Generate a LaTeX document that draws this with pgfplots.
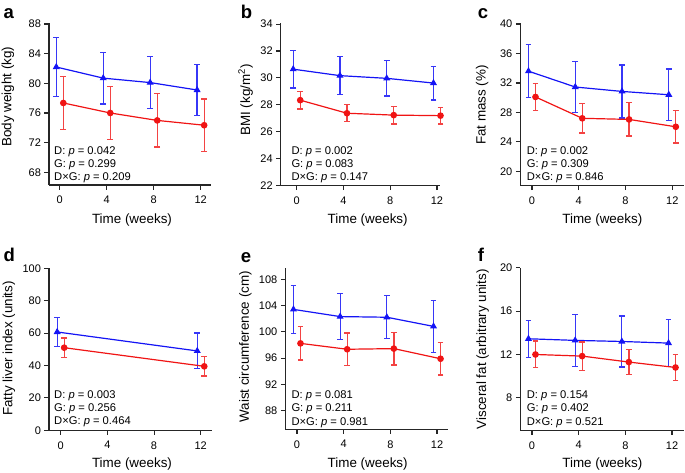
\documentclass[border=0pt]{standalone}
\usepackage{pgfplots}
\pgfplotsset{compat=1.18}
\usepackage{fontspec}
\setmainfont{Liberation Sans}

\definecolor{cblue}{RGB}{20,20,245}
\definecolor{cred}{RGB}{240,20,20}

\pgfplotsset{
  panel/.style={
    scale only axis, anchor=south west, clip=false,
    axis x line*=bottom, axis y line*=left,
    tick align=outside, major tick length=4.5pt,
    xtick={0,4,8,12},
    axis line style={line width=1.2pt, black!85},
    tick style={line width=1.1pt, black!85},
    tick label style={font=\fontsize{11}{12}\selectfont},
    xticklabel style={yshift=-3pt},
    /pgf/number format/assume math mode=true,
  },
  gb/.style={cblue, line width=1.2pt, mark=triangle*, mark size=2.9pt,
    error bars/.cd, y dir=both, y explicit,
    error bar style={line width=1.3pt, cblue!85},
    error mark options={rotate=90, mark size=2.9pt, line width=1.3pt, cblue!85}},
  gr/.style={cred, line width=1.2pt, mark=*, mark size=2.7pt,
    error bars/.cd, y dir=both, y explicit,
    error bar style={line width=1.3pt, cred!80},
    error mark options={rotate=90, mark size=2.9pt, line width=1.3pt, cred!80}},
}

\newcommand\lab{\fontsize{13.4}{15}\selectfont}
\newcommand\pv{\fontsize{11.2}{13}\selectfont}
\newcommand\plet{\fontsize{18.5}{20}\bfseries\selectfont}

\begin{document}
\begin{tikzpicture}[x=1pt,y=1pt]

% a
\begin{axis}[panel, at={(49pt,-185pt)}, width=162.2pt, height=162.5pt,
  xmin=-0.92, xmax=12.9, ymin=66.29, ymax=88.2, ytick={68,72,...,88}]
\addplot[gb] coordinates {(-0.3,82.2) +- (0,3.95) (3.7,80.7) +- (0,3.5) (7.7,80.1) +- (0,3.5) (11.7,79.1) +- (0,3.45)};
\addplot[gr] coordinates {(0.3,77.35) +- (0,3.6) (4.3,76.0) +- (0,3.6) (8.3,75.0) +- (0,3.6) (12.3,74.35) +- (0,3.55)};
\end{axis}

% b
\begin{axis}[panel, at={(280.7pt,-185.7pt)}, width=159.2pt, height=163pt,
  xmin=-1.37, xmax=12.25, ymin=22, ymax=34.1, ytick={22,24,...,34}]
\addplot[gb] coordinates {(-0.3,30.65) +- (0,1.4) (3.7,30.17) +- (0,1.4) (7.7,29.97) +- (0,1.3) (11.7,29.62) +- (0,1.25)};
\addplot[gr] coordinates {(0.3,28.35) +- (0,0.65) (4.3,27.38) +- (0,0.63) (8.3,27.24) +- (0,0.65) (12.3,27.2) +- (0,0.63)};
\end{axis}

% c
\begin{axis}[panel, at={(520.3pt,-185.7pt)}, width=163.7pt, height=162.4pt,
  xmin=-1.0, xmax=13.0, ymin=18.05, ymax=40.1, ytick={20,24,...,40}]
\addplot[gb] coordinates {(-0.3,33.6) +- (0,3.6) (3.7,31.45) +- (0,3.5) (7.7,30.85) +- (0,3.6) (11.7,30.4) +- (0,3.5)};
\addplot[gr] coordinates {(0.3,30.1) +- (0,1.8) (4.3,27.2) +- (0,2.0) (8.3,27.05) +- (0,2.25) (12.3,26.05) +- (0,2.2)};
\end{axis}

% d
\begin{axis}[panel, at={(49pt,-430.3pt)}, width=163.3pt, height=162.8pt,
  xmin=-1.0, xmax=12.99, ymin=0, ymax=100.5, ytick={0,20,...,100}]
\addplot[gb] coordinates {(-0.3,60.7) +- (0,9.0) (11.7,49.0) +- (0,11.0)};
\addplot[gr] coordinates {(0.3,51.0) +- (0,6.0) (12.3,39.5) +- (0,5.9)};
\end{axis}

% e
\begin{axis}[panel, at={(285.3pt,-429.3pt)}, width=162.7pt, height=161.4pt,
  xmin=-1.0, xmax=12.94, ymin=85.1, ymax=109.8, ytick={88,92,...,108}]
\addplot[gb] coordinates {(-0.3,103.45) +- (0,3.65) (3.7,102.35) +- (0,3.55) (7.7,102.25) +- (0,3.3) (11.7,100.85) +- (0,4.0)};
\addplot[gr] coordinates {(0.3,98.25) +- (0,2.55) (4.3,97.35) +- (0,2.5) (8.3,97.45) +- (0,2.5) (12.3,95.9) +- (0,2.5)};
\end{axis}

% f
\begin{axis}[panel, at={(520.3pt,-430.3pt)}, width=163.4pt, height=162.5pt,
  xmin=-1.0, xmax=13.0, ymin=5, ymax=20, ytick={8,12,...,20}]
\addplot[gb] coordinates {(-0.3,13.45) +- (0,1.7) (3.7,13.3) +- (0,2.4) (7.7,13.2) +- (0,2.35) (11.7,13.05) +- (0,2.15)};
\addplot[gr] coordinates {(0.3,12.0) +- (0,1.23) (4.3,11.85) +- (0,1.3) (8.3,11.3) +- (0,1.15) (12.3,10.8) +- (0,1.2)};
\end{axis}

% panel letters
\foreach \t/\x/\y in {a/3.3/18.3, b/240.7/18.3, c/477.7/18.3, d/3.3/261, e/240.7/262, f/477.7/261}
  \node[anchor=base west, inner sep=0, font=\plet] at (\x,-\y) {\t};

% axis titles
\node[rotate=90, font=\lab] at (8,-96.7) {Body weight (kg)};
\node[rotate=90, font=\lab] at (245.5,-100) {BMI (kg/m\textsuperscript{2})};
\node[rotate=90, font=\lab] at (482.2,-105) {Fat mass (\%)};
\node[rotate=90, font=\lab] at (8.8,-348.5) {Fatty liver index (units)};
\node[rotate=90, font=\lab] at (245.5,-346.8) {Waist circumference (cm)};
\node[rotate=90, font=\lab] at (482.7,-349.3) {Visceral fat (arbitrary units)};
\node[font=\lab] at (132,-220) {Time (weeks)};
\node[font=\lab] at (367.7,-220) {Time (weeks)};
\node[font=\lab] at (602.3,-220) {Time (weeks)};
\node[font=\lab] at (132,-464.3) {Time (weeks)};
\node[font=\lab] at (367.7,-463.7) {Time (weeks)};
\node[font=\lab] at (602.3,-463.7) {Time (weeks)};

% statistics
\foreach \x/\y/\da/\ga/\ia in {54/0/0.042/0.299/0.209, 291.3/0/0.002/0.083/0.147, 526.7/0/0.002/0.309/0.846,
                              54/244/0.003/0.256/0.464, 291.3/244.5/0.081/0.211/0.981, 526.7/244.5/0.154/0.402/0.521} {
  \node[anchor=base west, inner sep=0, font=\pv] at (\x,-154-\y) {D: \textit{p} = \da};
  \node[anchor=base west, inner sep=0, font=\pv] at (\x,-167.3-\y) {G: \textit{p} = \ga};
  \node[anchor=base west, inner sep=0, font=\pv] at (\x,-180.7-\y) {D×G: \textit{p} = \ia};
}

\pgfresetboundingbox
\path[use as bounding box] (0,0) rectangle (685,-472);
\end{tikzpicture}
\end{document}
